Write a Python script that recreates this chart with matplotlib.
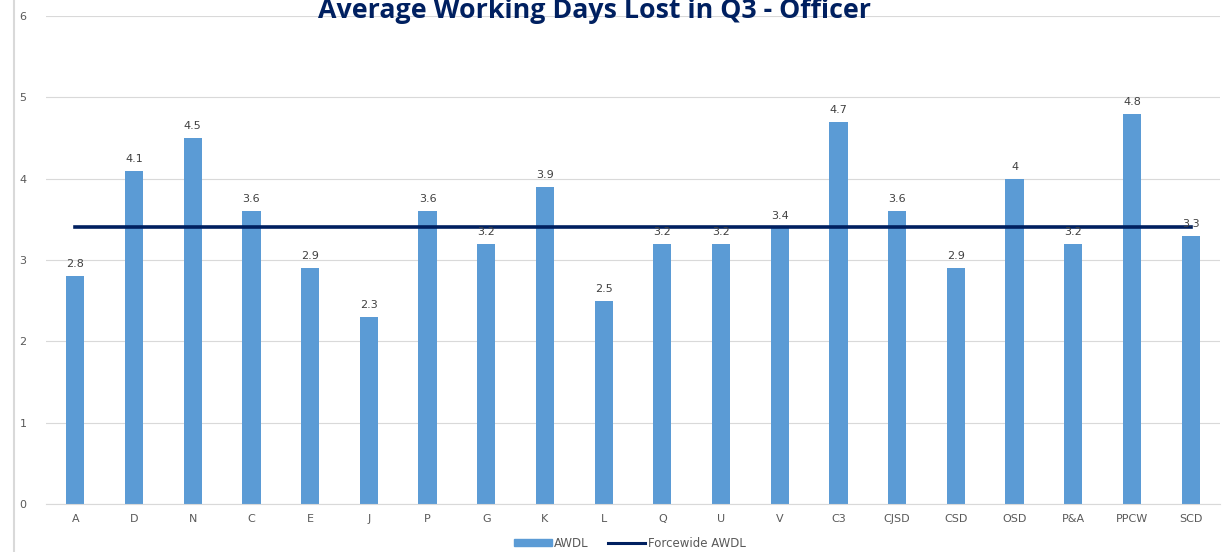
import matplotlib
matplotlib.use("Agg")
import matplotlib.pyplot as plt
from matplotlib.lines import Line2D

categories = ["A", "D", "N", "C", "E", "J", "P", "G", "K", "L", "Q", "U", "V",
              "C3", "CJSD", "CSD", "OSD", "P&A", "PPCW", "SCD"]
awdl = [2.8, 4.1, 4.5, 3.6, 2.9, 2.3, 3.6, 3.2, 3.9, 2.5, 3.2, 3.2, 3.4,
        4.7, 3.6, 2.9, 4.0, 3.2, 4.8, 3.3]
forcewide = [3.4] * len(categories)
value_labels = ["2.8", "4.1", "4.5", "3.6", "2.9", "2.3", "3.6", "3.2", "3.9", "2.5",
                "3.2", "3.2", "3.4", "4.7", "3.6", "2.9", "4", "3.2", "4.8", "3.3"]
yticks = [0, 1, 2, 3, 4, 5, 6]

bar_color = "#5B9BD5"
line_color = "#002060"
text_gray = "#595959"

fig = plt.figure(figsize=(12.30, 5.52), dpi=100)
ax = fig.add_axes([0.0374, 0.087, 0.9545, 0.884])

x = list(range(len(categories)))
ax.bar(x, awdl, width=0.31, color=bar_color, zorder=2)
ax.plot(x, forcewide, color=line_color, linewidth=2.6, zorder=3)

for xi, v, lab in zip(x, awdl, value_labels):
    ax.annotate(lab, (xi, v), xytext=(0, 5), textcoords="offset points",
                ha="center", va="bottom", fontsize=8, color="#404040", zorder=4)

ax.set_xlim(-0.5, len(categories) - 0.5)
ax.set_ylim(0, 6)
ax.set_yticks(yticks)
ax.set_xticks(x)
ax.set_xticklabels(categories)
ax.tick_params(axis="both", length=0, labelsize=8, labelcolor=text_gray)
ax.tick_params(axis="y", pad=14)
ax.tick_params(axis="x", pad=7)
ax.grid(axis="y", color="#D9D9D9", linewidth=0.8, zorder=0)
for s in ["top", "right", "left"]:
    ax.spines[s].set_visible(False)
ax.spines["bottom"].set_color("#D9D9D9")
ax.spines["bottom"].set_linewidth(0.8)

fig.text(0.483, 0.980, "Average Working Days Lost in Q3 - Officer", ha="center",
         va="center", fontsize=19.3, fontweight="bold", color=line_color, family="Open Sans")

# left border line
fig.add_artist(Line2D([14 / 1230, 14 / 1230], [0, 1], color="#D9D9D9", linewidth=1.5,
                      transform=fig.transFigure))

handles = [plt.Rectangle((0, 0), 1, 1, color=bar_color),
           Line2D([0], [0], color=line_color, linewidth=2.2)]
fig.legend(handles, ["AWDL", "Forcewide AWDL"], loc="center", bbox_to_anchor=(0.512, 0.016),
           ncol=2, frameon=False, fontsize=8.5, labelcolor=text_gray, handlelength=3.2,
           handleheight=0.5, columnspacing=1.6, handletextpad=0.2)

fig.savefig("out.png", dpi=100)
